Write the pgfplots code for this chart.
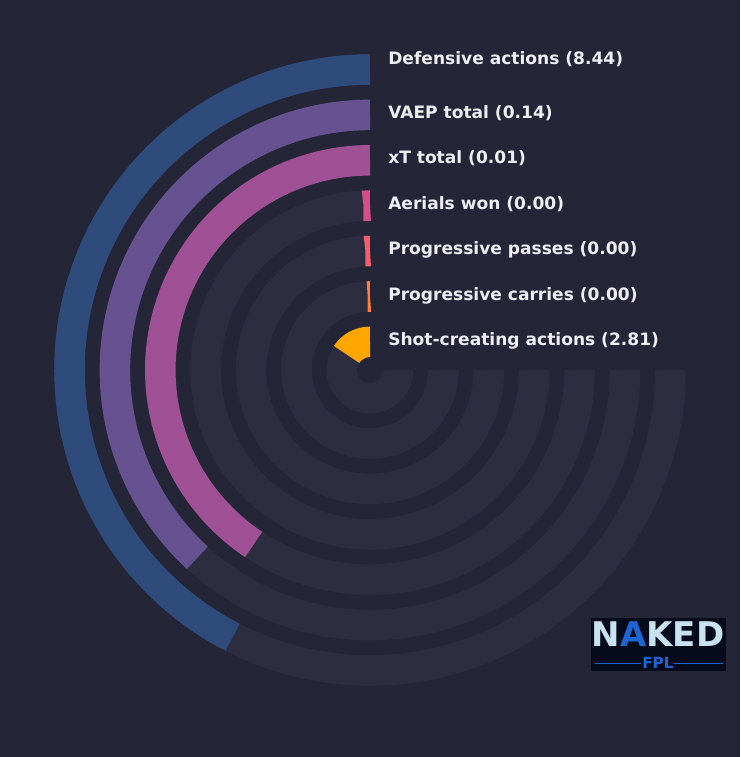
\documentclass[border=0pt]{standalone}
\usepackage{fontspec}
\setmainfont{DejaVu Sans}
\usepackage{pgfplots}
\pgfplotsset{compat=1.18}
\usepgfplotslibrary{polar}

\definecolor{bg}{HTML}{252538}
\definecolor{track}{HTML}{2D2D41}
\definecolor{c1}{HTML}{2F4B7C}
\definecolor{c2}{HTML}{665191}
\definecolor{c3}{HTML}{A05195}
\definecolor{c4}{HTML}{D45087}
\definecolor{c5}{HTML}{F95D6A}
\definecolor{c6}{HTML}{FF7C43}
\definecolor{c7}{HTML}{FFA600}
\definecolor{labeltext}{HTML}{EEEEF4}
\definecolor{logobg}{HTML}{060B1C}
\definecolor{logotext}{HTML}{C8E2F2}
\definecolor{logoblue}{HTML}{1E64D2}

\begin{document}
\begin{tikzpicture}
% canvas in pixel units (1px = 0.75pt)
\begin{scope}[x=0.75pt,y=-0.75pt]
  \fill[bg] (0,0) rectangle (740,757);
\end{scope}

\begin{polaraxis}[
    at={(277.5pt,-277.5pt)}, anchor=center,
    scale only axis, width=475.5pt, height=475.5pt,
    xmin=0, xmax=360, ymin=0, ymax=317,
    hide axis, clip=false,
    ring/.style={line width=22.9pt, line cap=butt, samples=150, no markers},
]
% background tracks, 270 degrees each
\addplot[ring, track, domain=90:360] ({x},{300.5});
\addplot[ring, track, domain=90:360] ({x},{255.1});
\addplot[ring, track, domain=90:360] ({x},{209.7});
\addplot[ring, track, domain=90:360] ({x},{164.3});
\addplot[ring, track, domain=90:360] ({x},{118.9});
\addplot[ring, track, domain=90:360] ({x},{73.5});
\addplot[ring, track, domain=90:360] ({x},{28.1});
% bars: start at 90 deg, end at 90 + sweep
\addplot[ring, c1, domain=90:242.8] ({x},{300.5});
\addplot[ring, c2, domain=90:227.4] ({x},{255.1});
\addplot[ring, c3, domain=90:236.3] ({x},{209.7});
\addplot[ring, c4, domain=90:92.3]  ({x},{164.3});
\addplot[ring, c5, domain=90:92.2]  ({x},{118.9});
\addplot[ring, c6, domain=90:91.8]  ({x},{73.5});
\addplot[ring, c7, domain=90:146.3] ({x},{28.1});
\end{polaraxis}

\begin{scope}[x=0.75pt,y=-0.75pt]
  \tikzset{lbl/.style={anchor=west, text=labeltext, font=\fontsize{12.8}{15}\selectfont\bfseries, inner sep=0pt}}
  \node[lbl] at (388,59.5)  {Defensive actions (8.44)};
  \node[lbl] at (388,113)   {VAEP total (0.14)};
  \node[lbl] at (388,158.5) {xT total (0.01)};
  \node[lbl] at (388,204)   {Aerials won (0.00)};
  \node[lbl] at (388,250)   {Progressive passes (0.00)};
  \node[lbl] at (388,295.5) {Progressive carries (0.00)};
  \node[lbl] at (388,341)   {Shot-creating actions (2.81)};
  % logo
  \fill[logobg] (591,618) rectangle (726,671);
  \node[text=logotext, font=\fontsize{25.5}{27}\selectfont\bfseries, inner sep=0pt] at (658,634) {N\textcolor{logoblue}{A}KED};
  \node[text=logoblue, font=\fontsize{11.5}{12}\selectfont\bfseries, inner sep=0pt] at (658,662.5) {FPL};
  \draw[logoblue, line width=0.6pt] (595,663.3) -- (641,663.3);
  \draw[logoblue, line width=0.6pt] (674,663.3) -- (723,663.3);
\end{scope}
\end{tikzpicture}
\end{document}
